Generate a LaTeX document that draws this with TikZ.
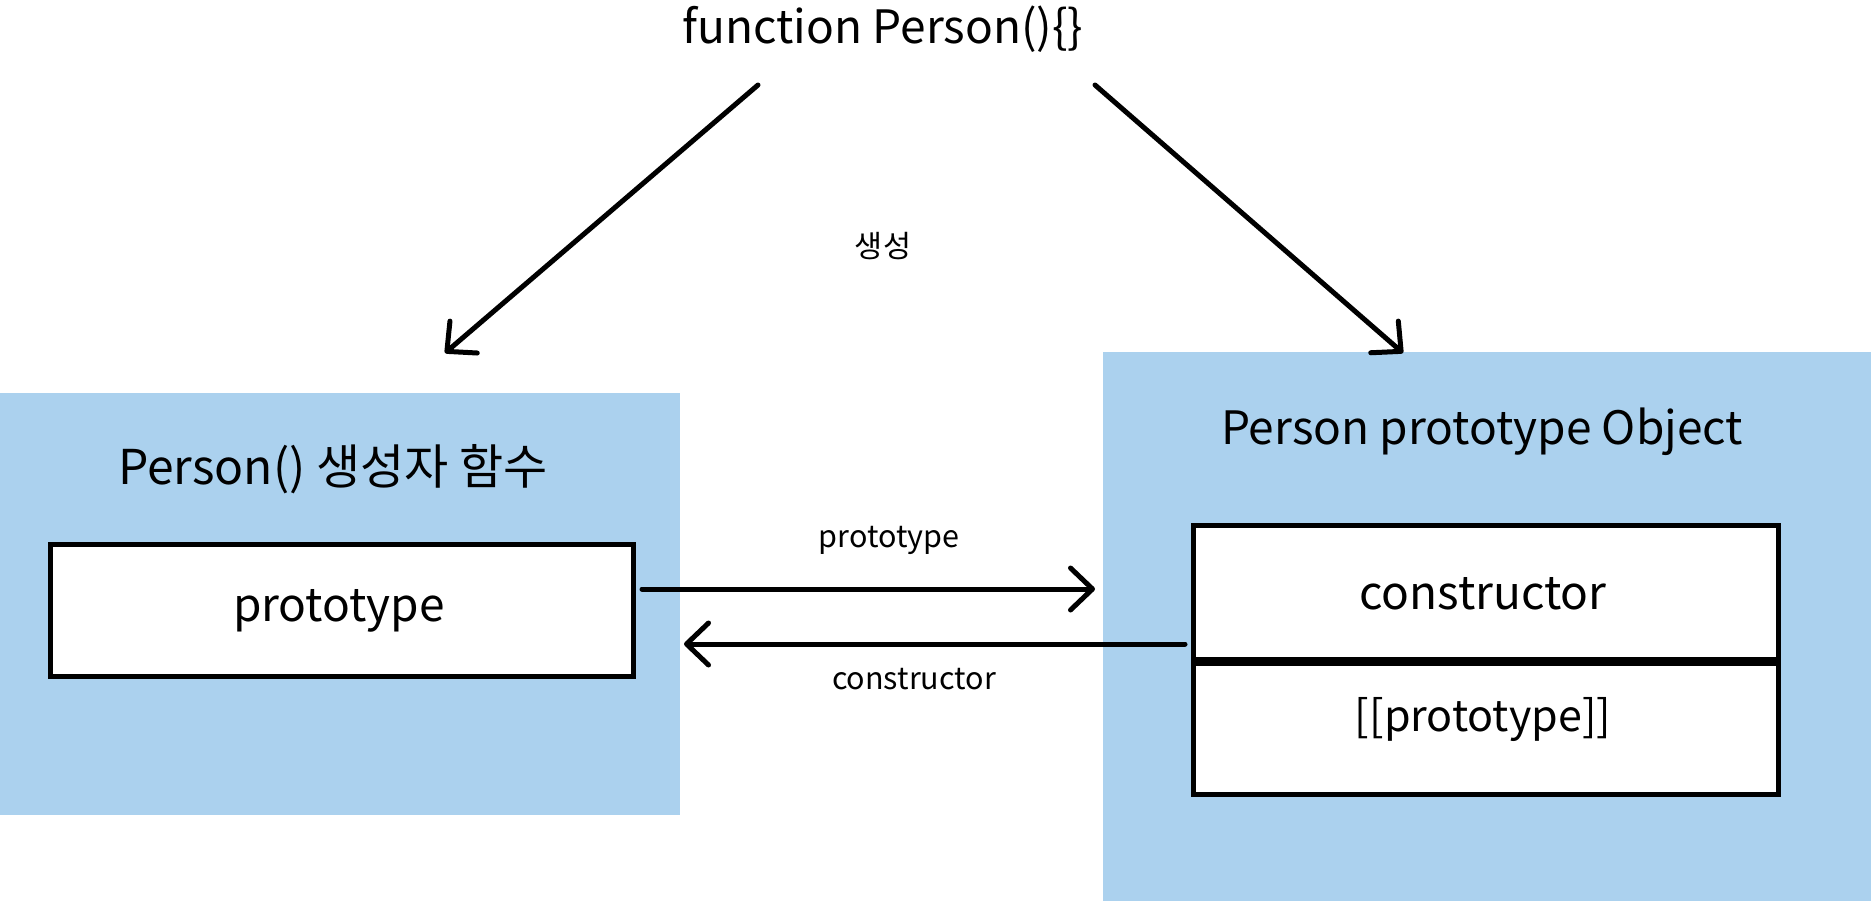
\documentclass[tikz,border=0pt]{standalone}
\usepackage{fontspec}
\setmainfont{Noto Sans CJK KR}
\usetikzlibrary{arrows.meta}
\definecolor{boxblue}{RGB}{171,209,238}
\tikzset{
  bluebg/.style={fill=boxblue, draw=none, anchor=north west, inner sep=0pt},
  cell/.style={draw=black, line width=4.8pt, fill=white, anchor=north west, inner sep=0pt},
  bigtxt/.style={font=\fontsize{46}{54}\selectfont, inner sep=0pt},
  smalltxt/.style={font=\fontsize{30.5}{36}\selectfont, inner sep=0pt},
  conn/.style={line width=5pt, line cap=round, -{Straight Barb[length=22pt,width=42pt,round]}}
}
\begin{document}
\begin{tikzpicture}[x=1pt,y=-1pt]
\useasboundingbox (0,0) rectangle (1871,901);
% background panels
\node[bluebg, minimum width=680pt, minimum height=422pt] (lblue) at (0,393) {};
\node[bluebg, minimum width=768pt, minimum height=549pt] (rblue) at (1103,352) {};
% title
\node[bigtxt] (title) at (883,29) {function Person()\{\}};
\node[smalltxt] (gen) at (883,246) {생성};
% left panel
\node[bigtxt, font=\fontsize{48}{56}\selectfont] (ltitle) at (333,469) {Person() 생성자 함수};
\node[cell, minimum width=583pt, minimum height=132pt] (proto) at (48,542) {};
\node[bigtxt] (protot) at (339,611) {prototype};
% right panel
\node[bigtxt] (rtitle) at (1482,432) {Person prototype Object};
\node[cell, minimum width=585pt, minimum height=134pt] (ctor) at (1191,523) {};
\node[cell, minimum width=585pt, minimum height=135pt] (iproto) at (1191,657) {};
\draw[line width=8pt] (ctor.south west) -- (ctor.south east);
\node[bigtxt] (ctort) at (1483,594) {constructor};
\node[bigtxt, font=\fontsize{43}{50}\selectfont] (iprotot) at (1483,719) {[[prototype]]};
% connectors
\coordinate (a1s) at (758,85);
\coordinate (a1e) at (445,353);
\coordinate (a2s) at (1095,85);
\coordinate (a2e) at (1403,353);
\draw[conn] (a1s) -- (a1e);
\draw[conn] (a2s) -- (a2e);
\coordinate (p1s) at (642,589);
\coordinate (p1e) at (1095,589);
\coordinate (c1s) at (1185,644);
\coordinate (c1e) at (684,644);
\draw[conn] (p1s) -- (p1e);
\draw[conn] (c1s) -- (c1e);
\node[smalltxt] (plabel) at (889,540) {prototype};
\node[smalltxt] (clabel) at (914,679) {constructor};
\end{tikzpicture}
\end{document}
